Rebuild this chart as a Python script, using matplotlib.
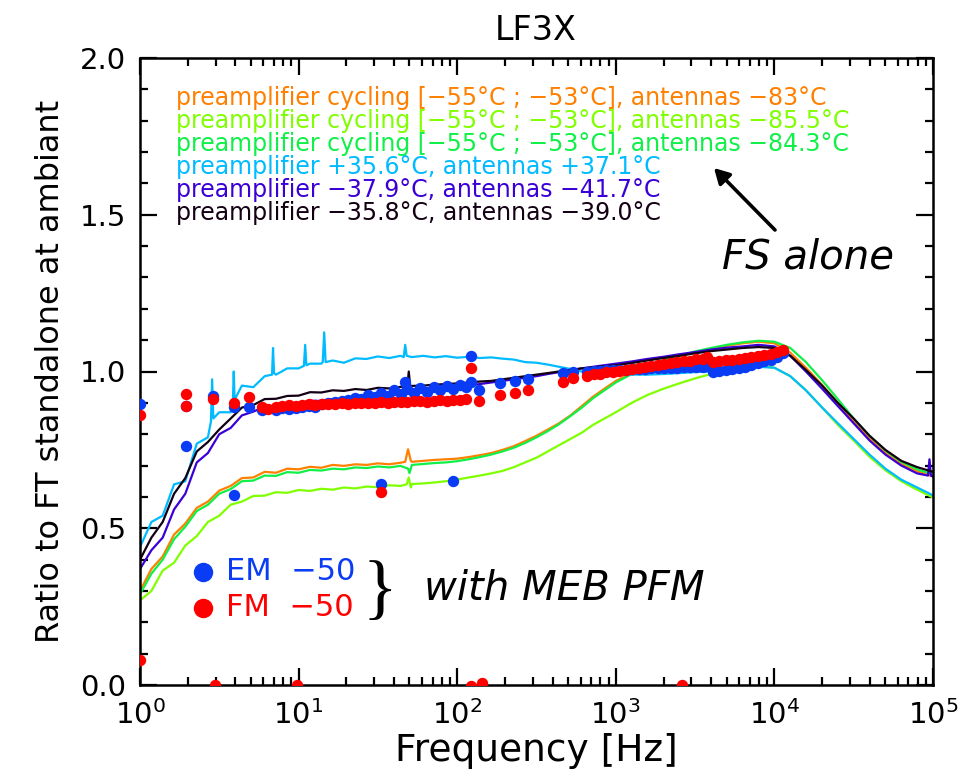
import matplotlib
matplotlib.use("Agg")
import matplotlib.pyplot as plt
from matplotlib.ticker import LogLocator, MultipleLocator, FormatStrFormatter, NullFormatter

plt.rcParams['font.family'] = ['DejaVu Sans']
plt.rcParams['mathtext.default'] = 'regular'

# ---------------------------------------------------------------- data
freq = [1.0, 1.18, 1.39, 1.64, 1.93, 2.28, 2.68, 3.16, 3.73, 4.39, 5.18, 6.11,
        7.2, 8.48, 10.0, 11.8, 13.9, 16.4, 19.3, 22.8, 26.8, 31.6, 37.3, 43.9,
        51.8, 61.1, 72.0, 84.8, 100, 118, 139, 164, 193, 228, 268, 316, 373,
        439, 518, 611, 720, 848, 1000, 1260, 1580, 2000, 2510, 3160, 3980,
        5010, 6310, 7940, 10000, 12600, 15800, 20000, 25100, 31600, 39800,
        50100, 63100, 79400, 100000]

cyc_83 = [0.30, 0.37, 0.41, 0.48, 0.515, 0.565, 0.585, 0.62, 0.635, 0.66, 0.662, 0.68,
          0.677, 0.69, 0.688, 0.696, 0.693, 0.702, 0.699, 0.704, 0.702, 0.707, 0.704, 0.709,
          0.712, 0.715, 0.718, 0.72, 0.722, 0.727, 0.733, 0.74, 0.75, 0.762, 0.778, 0.795, 0.815,
          0.835, 0.86, 0.89, 0.92, 0.945, 0.97, 0.995, 1.015, 1.035, 1.05, 1.062, 1.072,
          1.082, 1.09, 1.095, 1.09, 1.06, 1.012, 0.957, 0.90, 0.84, 0.785,
          0.74, 0.705, 0.682, 0.665]
cyc_85 = [0.27, 0.30, 0.365, 0.39, 0.445, 0.475, 0.52, 0.54, 0.575, 0.585, 0.603, 0.604,
          0.615, 0.613, 0.622, 0.619, 0.626, 0.623, 0.63, 0.627, 0.633, 0.631, 0.637, 0.635,
          0.641, 0.643, 0.646, 0.65, 0.655, 0.662, 0.668, 0.675, 0.683, 0.695, 0.71, 0.725, 0.745,
          0.765, 0.785, 0.805, 0.83, 0.85, 0.87, 0.90, 0.925, 0.945, 0.962, 0.978, 0.992,
          1.003, 1.012, 1.018, 1.012, 0.985, 0.94, 0.885, 0.83, 0.78, 0.728,
          0.685, 0.65, 0.623, 0.598]
cyc_84 = [0.29, 0.355, 0.40, 0.465, 0.505, 0.555, 0.575, 0.61, 0.625, 0.65, 0.652, 0.668,
          0.667, 0.679, 0.677, 0.686, 0.684, 0.69, 0.688, 0.694, 0.692, 0.697, 0.694, 0.699,
          0.702, 0.705, 0.708, 0.71, 0.714, 0.72, 0.727, 0.735, 0.745, 0.757, 0.772, 0.79, 0.81,
          0.832, 0.858, 0.885, 0.915, 0.94, 0.965, 0.992, 1.015, 1.035, 1.05, 1.064, 1.075,
          1.085, 1.093, 1.098, 1.095, 1.075, 1.03, 0.972, 0.912, 0.85, 0.795,
          0.748, 0.712, 0.688, 0.672]
warm_35 = [0.44, 0.52, 0.54, 0.64, 0.65, 0.77, 0.79, 0.87, 0.87, 0.955, 0.95, 0.985,
           0.99, 1.01, 1.01, 1.025, 1.025, 1.035, 1.028, 1.042, 1.04, 1.048, 1.043, 1.05,
           1.046, 1.05, 1.045, 1.049, 1.044, 1.047, 1.043, 1.045, 1.041, 1.038, 1.03, 1.028, 1.022,
           1.015, 1.008, 1.0, 0.995, 0.992, 0.99, 0.99, 0.99, 0.992, 0.995, 0.998, 1.0,
           1.005, 1.01, 1.015, 1.012, 0.985, 0.94, 0.885, 0.835, 0.785, 0.735,
           0.69, 0.655, 0.63, 0.605]
cold_37 = [0.37, 0.43, 0.47, 0.56, 0.61, 0.71, 0.74, 0.80, 0.82, 0.86, 0.872, 0.888,
           0.887, 0.897, 0.898, 0.907, 0.906, 0.912, 0.911, 0.918, 0.918, 0.924, 0.923, 0.93,
           0.932, 0.935, 0.94, 0.945, 0.95, 0.955, 0.96, 0.965, 0.97, 0.975, 0.98, 0.985, 0.992,
           0.998, 1.004, 1.01, 1.015, 1.02, 1.025, 1.032, 1.04, 1.047, 1.055, 1.062, 1.07,
           1.076, 1.08, 1.085, 1.08, 1.05, 1.0, 0.945, 0.89, 0.835, 0.78,
           0.735, 0.70, 0.675, 0.665]
cold_35 = [0.40, 0.47, 0.52, 0.61, 0.66, 0.745, 0.775, 0.815, 0.85, 0.885, 0.893, 0.912,
           0.913, 0.922, 0.923, 0.934, 0.933, 0.94, 0.938, 0.944, 0.941, 0.948, 0.946, 0.951,
           0.954, 0.955, 0.958, 0.96, 0.962, 0.965, 0.968, 0.97, 0.975, 0.98, 0.985, 0.99, 0.995,
           1.0, 1.005, 1.01, 1.013, 1.017, 1.02, 1.027, 1.035, 1.043, 1.05, 1.058, 1.065,
           1.07, 1.075, 1.078, 1.075, 1.05, 1.005, 0.955, 0.90, 0.85, 0.795,
           0.75, 0.715, 0.695, 0.68]

# narrow interference peaks (frequency, value)
cyc_83_peaks = [(47, 0.712), (49, 0.752), (51, 0.715)]
cyc_85_peaks = [(48, 0.64), (49.5, 0.662), (51, 0.63)]
cyc_84_peaks = [(49, 0.69), (50, 0.676), (51, 0.69)]
warm_35_peaks = [(2.80, 0.84), (2.85, 0.975), (2.90, 0.85),
                 (3.85, 0.90), (3.90, 1.0), (3.95, 0.91),
                 (6.8, 0.99), (6.9, 1.075), (7.0, 0.995),
                 (10.8, 1.018), (11.0, 1.085), (11.2, 1.02),
                 (14.2, 1.03), (14.5, 1.125), (14.8, 1.03),
                 (46, 1.046), (47, 1.085), (48, 1.05)]
cold_37_peaks = [(93000, 0.668), (95000, 0.72), (97000, 0.668)]
cold_35_peaks = [(48.5, 0.952), (49.5, 1.0), (50.5, 0.955)]

series_labels = ["preamplifier cycling [\u221255\u00b0C ; \u221253\u00b0C], antennas \u221283\u00b0C",
                 "preamplifier cycling [\u221255\u00b0C ; \u221253\u00b0C], antennas \u221285.5\u00b0C",
                 "preamplifier cycling [\u221255\u00b0C ; \u221253\u00b0C], antennas \u221284.3\u00b0C",
                 "preamplifier +35.6\u00b0C, antennas +37.1\u00b0C",
                 "preamplifier \u221237.9\u00b0C, antennas \u221241.7\u00b0C",
                 "preamplifier \u221235.8\u00b0C, antennas \u221239.0\u00b0C"]
series_colors = ['#FF8000', '#80FF00', '#10F048', '#00BBFF', '#3A00D6', '#140014']

# MEB PFM measurements: EM -50 (blue) and FM -50 (red)
em_f = [1.0, 1.95, 1.95, 2.9, 3.9, 3.9, 4.9, 5.9, 33, 47, 94, 123, 123, 138, 186,
        230, 280, 465, 540,
        7.2, 7.9, 8.7, 9.6, 10.5, 11.6, 12.7, 14, 15.4, 17, 18.7, 20.5, 22.6, 24.9,
        27.4, 30.1, 33.1, 36.4, 40, 44, 48.4, 53.3, 58.6, 64.5, 70.9, 78, 85.8, 94.4,
        103.8, 114.2,
        660, 724, 795, 873, 958, 1052, 1155, 1268, 1392, 1528, 1678, 1842, 2022, 2220,
        2437, 2676, 2938, 3225, 3541, 3750,
        4100, 4500, 4940, 5420, 5950, 6530, 7170, 7870, 8640, 9480, 10400, 11400]
em_v = [0.895, 0.89, 0.763, 0.923, 0.886, 0.607, 0.886, 0.878, 0.64, 0.965, 0.652,
        1.05, 0.965, 0.94, 0.962, 0.97, 0.975, 0.996, 1.0,
        0.878, 0.882, 0.880, 0.884, 0.886, 0.890, 0.888, 0.895, 0.898, 0.902, 0.905,
        0.910, 0.915, 0.912, 0.925, 0.918, 0.932, 0.922, 0.940, 0.928, 0.945, 0.932,
        0.948, 0.936, 0.952, 0.940, 0.955, 0.945, 0.958, 0.950,
        1.000, 1.002, 1.003, 1.004, 1.005, 1.006, 1.006, 1.008, 1.008, 1.009, 1.010,
        1.010, 1.011, 1.012, 1.012, 1.013, 1.014, 1.014, 1.015, 1.016,
        0.998, 1.002, 1.005, 1.008, 1.011, 1.015, 1.020, 1.026, 1.032, 1.038, 1.046, 1.058]
fm_f = [1.0, 1.0, 1.95, 1.95, 2.9, 2.95, 3.9, 4.9, 5.9, 6.4, 9.8, 33, 123, 123, 138,
        143, 186, 230, 280, 465, 540, 2600,
        7.2, 7.9, 8.7, 9.6, 10.5, 11.6, 12.7, 14, 15.4, 17, 18.7, 20.5, 22.6, 24.9,
        27.4, 30.1, 33.1, 36.4, 40, 44, 48.4, 53.3, 58.6, 64.5, 70.9, 78, 85.8, 94.4,
        103.8, 114.2,
        660, 724, 795, 873, 958, 1052, 1155, 1268, 1392, 1528, 1678, 1842, 2022, 2220,
        2437, 2676, 2938, 3225, 3541, 3750,
        4100, 4500, 4940, 5420, 5950, 6530, 7170, 7870, 8640, 9480, 10400, 11400]
fm_v = [0.862, 0.08, 0.927, 0.89, 0.913, 0.0, 0.90, 0.92, 0.888, 0.88, 0.0, 0.617,
        1.01, -0.003, 0.907, 0.005, 0.926, 0.933, 0.94, 0.968, 0.98, 0.0,
        0.888, 0.890, 0.892, 0.890, 0.893, 0.895, 0.893, 0.896, 0.895, 0.897, 0.898,
        0.896, 0.899, 0.900, 0.898, 0.901, 0.902, 0.900, 0.903, 0.904, 0.902, 0.905,
        0.906, 0.904, 0.907, 0.908, 0.906, 0.909, 0.910, 0.912,
        0.987, 0.991, 0.993, 0.997, 0.999, 1.003, 1.005, 1.009, 1.011, 1.015, 1.017,
        1.021, 1.023, 1.027, 1.029, 1.033, 1.035, 1.039, 1.041, 1.045,
        1.030, 1.033, 1.036, 1.038, 1.040, 1.043, 1.045, 1.048, 1.052, 1.056, 1.062, 1.070]

# ---------------------------------------------------------------- figure
W, H = 976, 784
fig = plt.figure(figsize=(W / 100, H / 100), dpi=100)
ax = fig.add_axes([140 / W, 1 - 685 / H, 793 / W, 627 / H])


def merged(values, peaks):
    pts = sorted(list(zip(freq, values)) + list(peaks))
    return [p[0] for p in pts], [p[1] for p in pts]


curves = [(cyc_83, cyc_83_peaks), (cyc_85, cyc_85_peaks), (cyc_84, cyc_84_peaks),
          (warm_35, warm_35_peaks), (cold_37, cold_37_peaks), (cold_35, cold_35_peaks)]
for (vals, peaks), col in zip(curves, series_colors):
    fx, fy = merged(vals, peaks)
    ax.plot(fx, fy, color=col, lw=1.6, zorder=2)

ax.plot(em_f, em_v, 'o', color='#0A3CF5', ms=8.2, mec='none', zorder=3)
ax.plot(fm_f, fm_v, 'o', color='#FF0000', ms=8.2, mec='none', zorder=4)

ax.set_xscale('log')
ax.set_xlim(1, 1e5)
ax.set_ylim(0, 2.0)

ax.xaxis.set_major_locator(LogLocator(base=10, numticks=10))
ax.xaxis.set_minor_locator(LogLocator(base=10, subs=range(2, 10), numticks=100))
ax.xaxis.set_minor_formatter(NullFormatter())
ax.yaxis.set_major_locator(MultipleLocator(0.5))
ax.yaxis.set_minor_locator(MultipleLocator(0.1))
ax.yaxis.set_major_formatter(FormatStrFormatter('%.1f'))

ax.tick_params(which='both', direction='in', top=True, right=True, width=1.6,
               colors='black', labelsize=21)
ax.tick_params(which='major', length=12)
ax.tick_params(which='minor', length=6)
ax.tick_params(axis='y', which='major', pad=10)
ax.tick_params(axis='x', which='major', pad=11)
for sp in ax.spines.values():
    sp.set_linewidth(1.8)

ax.set_xlabel('Frequency [Hz]', fontsize=27, labelpad=2)
ax.set_ylabel('Ratio to FT standalone at ambiant', fontsize=23, labelpad=10)

fig.text(536 / W, 1 - 30 / H, 'LF3X', fontsize=24, ha='center', va='center')

# series legend written as coloured lines of text
row_y = [98, 121, 144, 167, 190, 213]
for txt, col, yy in zip(series_labels, series_colors, row_y):
    fig.text(176 / W, 1 - yy / H, txt, color=col, fontsize=17, ha='left', va='center')

# FS alone annotation
fig.text(808 / W, 1 - 257 / H, 'FS alone', fontsize=29, style='italic',
         ha='center', va='center')
ax.annotate('', xy=(714 / W, 1 - 168 / H), xycoords='figure fraction',
            xytext=(775 / W, 1 - 230 / H), textcoords='figure fraction',
            arrowprops=dict(arrowstyle='-|>,head_length=0.9,head_width=0.5',
                            color='black', lw=2.6, shrinkA=0, shrinkB=0))

# MEB PFM marker key
fig.lines.append(plt.Line2D([203 / W], [1 - 572 / H], marker='o', ms=14,
                            color='#0A3CF5', mec='none', transform=fig.transFigure))
fig.lines.append(plt.Line2D([203 / W], [1 - 608 / H], marker='o', ms=14,
                            color='#FF0000', mec='none', transform=fig.transFigure))
fig.text(226 / W, 1 - 572 / H, 'EM  \u221250', color='#0A3CF5', fontsize=22,
         ha='left', va='center')
fig.text(226 / W, 1 - 608 / H, 'FM  \u221250', color='#FF0000', fontsize=22,
         ha='left', va='center')
fig.text(380 / W, 1 - 592 / H, '}', fontsize=52, family=['Liberation Serif', 'DejaVu Serif'],
         ha='center', va='center')
fig.text(705 / W, 1 - 588 / H, 'with MEB PFM', fontsize=29, style='italic',
         ha='right', va='center')

fig.savefig('out.png', dpi=100)
